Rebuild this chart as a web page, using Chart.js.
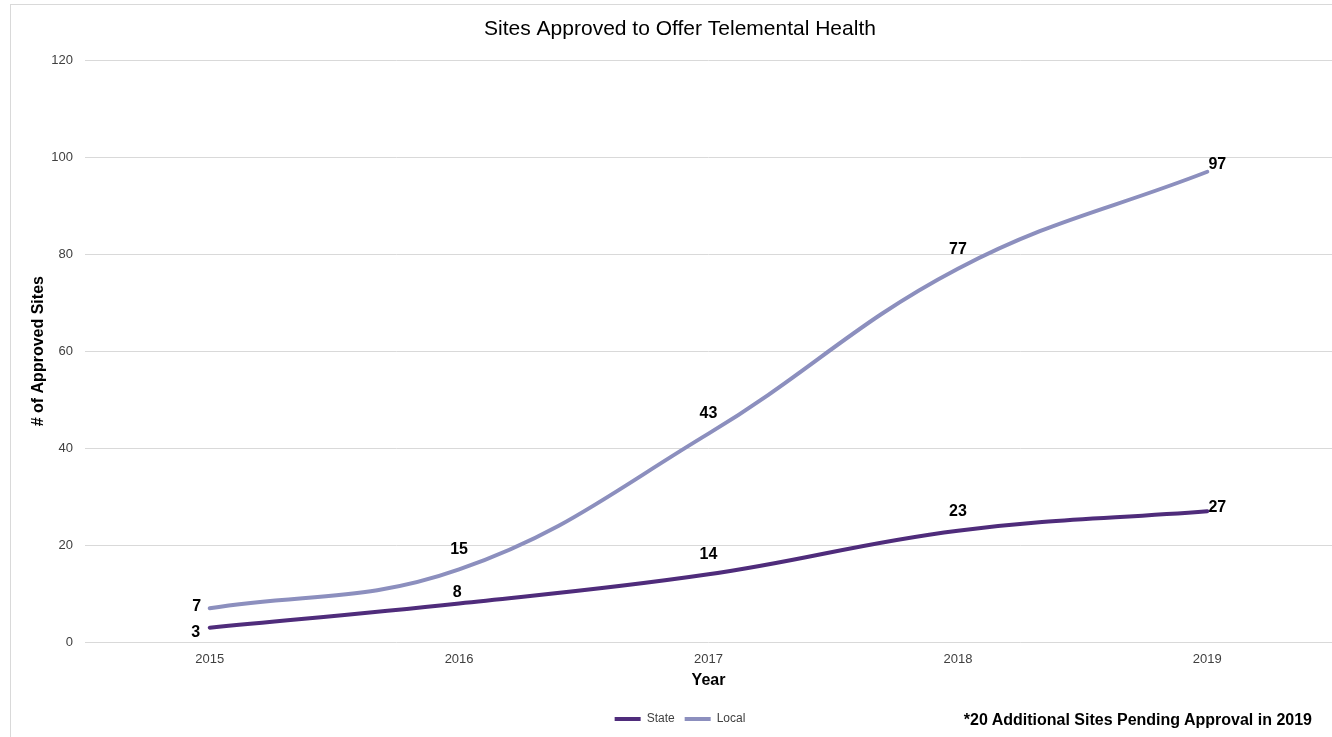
<!DOCTYPE html>
<html>
<head>
<meta charset="utf-8">
<script src="https://cdn.jsdelivr.net/npm/chart.js@4.4.1/dist/chart.umd.min.js"></script>
<style>
  html, body { margin: 0; padding: 0; background: #fff; }
  #wrap { position: relative; width: 1332px; height: 737px; overflow: hidden; }
  #frame { position: absolute; left: 10px; top: 4px; width: 1340px; height: 760px;
           border-left: 1px solid #d9d9d9; border-top: 1px solid #d9d9d9; pointer-events: none; }
  #note { position: absolute; right: 20px; top: 711px; font: bold 16px "Liberation Sans", Arial, sans-serif; color: #000; }
</style>
</head>
<body>
<div id="wrap">
  <canvas id="myChart" width="1360" height="737"></canvas>
  <div id="frame"></div>
  <div id="note">*20 Additional Sites Pending Approval in 2019</div>
</div>
<script>
var years = ['2015', '2016', '2017', '2018', '2019']
var stateSites = [3, 8, 14, 23, 27]
var localSites = [7, 15, 43, 77, 97]
var yTicks = [0, 20, 40, 60, 80, 100, 120]

var stateColor = '#4f2c7b'
var localColor = '#8c8fbe'

// label offsets (dx, dy) from each point, per dataset
var labelOffsets = [
    [[-14, 5], [-2, -11], [0, -20], [0, -19], [10, -4]],
    [[-13, -2], [0, -20], [0, -20], [0, -19], [10, -7]]
]

var pointLabels = {
    id: 'pointLabels',
    afterDatasetsDraw(chart) {
        var ctx = chart.ctx
        ctx.save()
        ctx.font = 'bold 16px "Liberation Sans", Arial, sans-serif'
        ctx.fillStyle = '#000'
        ctx.textAlign = 'center'
        ctx.textBaseline = 'middle'
        chart.data.datasets.forEach((ds, d) => {
            var meta = chart.getDatasetMeta(d)
            meta.data.forEach((pt, i) => {
                var off = labelOffsets[d][i]
                ctx.fillText(ds.data[i], pt.x + off[0], pt.y + off[1])
            })
        })
        ctx.restore()
    }
}

Chart.defaults.font.family = '"Liberation Sans", Arial, sans-serif'
Chart.defaults.color = '#404040'

var ctx = document.getElementById('myChart').getContext('2d')
var myChart = new Chart(ctx, {
    type: 'line',
    data: {
        labels: years,
        datasets: [{
            label: 'State',
            data: stateSites,
            borderColor: stateColor,
            backgroundColor: stateColor,
            borderWidth: 4,
            borderCapStyle: 'round',
            pointRadius: 0,
            tension: 0.4
        }, {
            label: 'Local',
            data: localSites,
            borderColor: localColor,
            backgroundColor: localColor,
            borderWidth: 4,
            borderCapStyle: 'round',
            pointRadius: 0,
            tension: 0.4
        }]
    },
    options: {
        responsive: false,
        animation: false,
        layout: { padding: { left: 0, right: 0, top: 0, bottom: 2 } },
        plugins: {
            title: {
                display: true,
                text: 'Sites Approved to Offer Telemental Health',
                color: '#000',
                font: { size: 21, weight: 'normal' },
                padding: { top: 17, bottom: 18 }
            },
            legend: {
                position: 'bottom',
                labels: {
                    usePointStyle: true,
                    pointStyle: 'line',
                    pointStyleWidth: 26,
                    boxHeight: 12,
                    color: '#404040',
                    font: { size: 12 },
                    padding: 10
                }
            },
            tooltip: { enabled: false }
        },
        scales: {
            x: {
                offset: true,
                grid: { display: false, drawTicks: false },
                border: { display: false },
                ticks: { color: '#404040', font: { size: 13 }, padding: 9 },
                title: {
                    display: true,
                    text: 'Year',
                    color: '#000',
                    font: { size: 16, weight: 'bold' },
                    padding: { top: -5, bottom: 13 }
                }
            },
            y: {
                min: 0,
                max: 120,
                afterBuildTicks(axis) {
                    axis.ticks = yTicks.map(v => ({ value: v }))
                },
                afterFit(axis) { axis.width = 85 },
                grid: { color: '#d9d9d9', lineWidth: 1, drawTicks: false },
                border: { display: false },
                ticks: { color: '#404040', font: { size: 13 }, padding: 12 },
                title: {
                    display: true,
                    text: '# of Approved Sites',
                    color: '#000',
                    font: { size: 16, weight: 'bold' },
                    padding: { top: 29, bottom: 0 }
                }
            },
            // empty strip on the right, keeps title and legend centred on the full frame
            yRight: {
                position: 'right',
                min: 0,
                max: 120,
                afterFit(axis) { axis.width = 28 },
                grid: { display: false, drawTicks: false },
                border: { display: false },
                ticks: { display: false }
            }
        }
    },
    plugins: [pointLabels]
})
</script>
</body>
</html>
